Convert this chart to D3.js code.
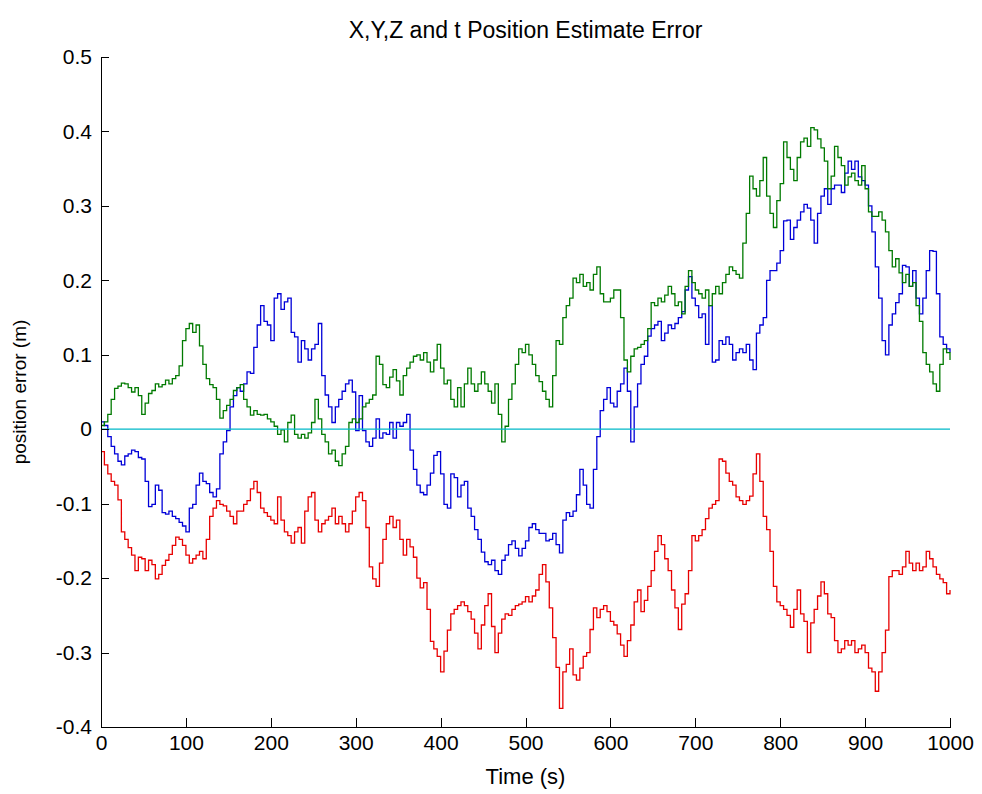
<!DOCTYPE html>
<meta charset="utf-8">
<body>
    <div id="chart"></div>
</body>
<script src="https://cdn.jsdelivr.net/npm/d3@7"></script>
<style>
    body { margin: 0; background: #fff; }
    text { font-family: "Liberation Sans", Arial, sans-serif; fill: #000; }
    .axis path, .axis line { stroke: #000; shape-rendering: crispEdges; }
    .series { fill: none; stroke-width: 1.3px; }
</style>
<script>

    // sample times (s), one every 4 s
    var timeS = d3.range(0, 1001, 4);

    var errX = [
        0.010, 0.005, -0.010, -0.023, -0.033, -0.043, -0.048, -0.036, -0.033, -0.028, -0.030, -0.038, -0.040, -0.070, -0.104, -0.101, -0.075, -0.082, -0.112, -0.114, -0.110,
        -0.117, -0.120, -0.125, -0.130, -0.138, -0.106, -0.101, -0.075, -0.059, -0.070, -0.073, -0.085, -0.091, -0.080, -0.033, -0.017, -0.002, 0.030, 0.045, 0.056, 0.051,
        0.061, 0.077, 0.075, 0.110, 0.140, 0.166, 0.145, 0.140, 0.119, 0.176, 0.182, 0.161, 0.171, 0.176, 0.130, 0.124, 0.090, 0.119, 0.108, 0.093, 0.108,
        0.114, 0.142, 0.072, 0.046, 0.030, 0.009, 0.030, 0.040, 0.051, 0.061, 0.066, 0.050, -0.002, 0.045, -0.002, -0.017, -0.023, -0.012, 0.014, -0.012, -0.005,
        -0.007, 0.009, -0.012, 0.009, 0.004, 0.009, 0.020, -0.028, -0.054, -0.075, -0.085, -0.088, -0.075, -0.059, -0.035, -0.030, -0.060, -0.101, -0.106, -0.060, -0.065,
        -0.091, -0.075, -0.070, -0.106, -0.117, -0.135, -0.148, -0.165, -0.178, -0.182, -0.176, -0.190, -0.195, -0.176, -0.169, -0.155, -0.150, -0.160, -0.170, -0.160, -0.150,
        -0.132, -0.127, -0.135, -0.140, -0.140, -0.150, -0.148, -0.140, -0.155, -0.166, -0.122, -0.112, -0.117, -0.110, -0.088, -0.054, -0.075, -0.101, -0.106, -0.054, -0.010,
        0.025, 0.040, 0.056, 0.035, 0.030, 0.051, 0.061, 0.082, 0.051, -0.017, 0.030, 0.061, 0.087, 0.098, 0.125, 0.135, 0.140, 0.145, 0.119, 0.129, 0.140,
        0.135, 0.142, 0.150, 0.158, 0.187, 0.205, 0.176, 0.166, 0.150, 0.155, 0.114, 0.166, 0.090, 0.093, 0.119, 0.114, 0.124, 0.114, 0.093, 0.103, 0.108,
        0.103, 0.114, 0.093, 0.080, 0.129, 0.140, 0.150, 0.200, 0.213, 0.213, 0.223, 0.240, 0.280, 0.281, 0.255, 0.271, 0.281, 0.292, 0.302, 0.297,
        0.281, 0.250, 0.290, 0.313, 0.323, 0.302, 0.323, 0.328, 0.328, 0.318, 0.344, 0.360, 0.349, 0.360, 0.339, 0.334, 0.328, 0.300, 0.265, 0.218, 0.176,
        0.119, 0.100, 0.140, 0.155, 0.170, 0.182, 0.220, 0.218, 0.192, 0.213, 0.176, 0.155, 0.176, 0.213, 0.240, 0.239, 0.182, 0.124, 0.114, 0.108, 0.103
    ];

    var errY = [
        0.005, 0.010, 0.020, 0.040, 0.055, 0.058, 0.062, 0.061, 0.056, 0.050, 0.056, 0.045, 0.020, 0.035, 0.048, 0.052, 0.061, 0.057, 0.060, 0.066, 0.061,
        0.068, 0.072, 0.085, 0.119, 0.135, 0.142, 0.130, 0.140, 0.112, 0.087, 0.068, 0.060, 0.056, 0.040, 0.015, 0.025, 0.032, 0.040, 0.052, 0.056, 0.060,
        0.040, 0.030, 0.019, 0.025, 0.020, 0.019, 0.020, 0.014, 0.010, 0.004, -0.007, -0.001, -0.017, 0.009, 0.019, -0.007, -0.012, -0.007, -0.012, -0.005, 0.009,
        0.040, 0.014, -0.007, -0.017, -0.033, -0.028, -0.043, -0.049, -0.033, -0.023, 0.009, 0.014, 0.009, 0.014, 0.030, 0.035, 0.040, 0.046, 0.098, 0.087, 0.060,
        0.056, 0.070, 0.080, 0.065, 0.046, 0.072, 0.082, 0.090, 0.098, 0.100, 0.093, 0.103, 0.090, 0.077, 0.093, 0.114, 0.082, 0.061, 0.066, 0.040, 0.030,
        0.056, 0.030, 0.061, 0.082, 0.061, 0.051, 0.061, 0.077, 0.061, 0.051, 0.035, 0.061, 0.020, -0.017, 0.004, 0.040, 0.061, 0.087, 0.108, 0.103, 0.114,
        0.100, 0.087, 0.072, 0.064, 0.051, 0.040, 0.030, 0.072, 0.119, 0.114, 0.150, 0.166, 0.176, 0.203, 0.197, 0.208, 0.192, 0.197, 0.187, 0.208, 0.218,
        0.182, 0.171, 0.171, 0.176, 0.187, 0.187, 0.150, 0.093, 0.077, 0.098, 0.108, 0.110, 0.114, 0.119, 0.135, 0.170, 0.166, 0.176, 0.171, 0.180, 0.192,
        0.182, 0.166, 0.171, 0.155, 0.192, 0.213, 0.197, 0.187, 0.182, 0.176, 0.187, 0.166, 0.182, 0.192, 0.182, 0.197, 0.208, 0.218, 0.213, 0.208, 0.203,
        0.250, 0.290, 0.340, 0.323, 0.313, 0.334, 0.365, 0.313, 0.290, 0.271, 0.307, 0.330, 0.386, 0.365, 0.349, 0.334, 0.365, 0.386, 0.391, 0.380,
        0.405, 0.402, 0.390, 0.378, 0.360, 0.323, 0.340, 0.380, 0.365, 0.354, 0.328, 0.339, 0.344, 0.334, 0.328, 0.354, 0.323, 0.292, 0.286, 0.286, 0.292,
        0.281, 0.265, 0.240, 0.218, 0.229, 0.210, 0.197, 0.208, 0.192, 0.197, 0.166, 0.145, 0.103, 0.087, 0.077, 0.061, 0.051, 0.087, 0.108, 0.103, 0.093
    ];

    var errZ = [
        -0.030, -0.048, -0.060, -0.070, -0.075, -0.095, -0.138, -0.148, -0.159, -0.169, -0.190, -0.172, -0.174, -0.190, -0.176, -0.182, -0.201, -0.195, -0.183, -0.176, -0.168,
        -0.156, -0.145, -0.148, -0.156, -0.169, -0.180, -0.174, -0.169, -0.164, -0.174, -0.148, -0.117, -0.106, -0.096, -0.101, -0.103, -0.110, -0.117, -0.127, -0.110, -0.110,
        -0.101, -0.096, -0.080, -0.070, -0.085, -0.106, -0.112, -0.117, -0.122, -0.127, -0.091, -0.122, -0.138, -0.143, -0.153, -0.138, -0.132, -0.153, -0.110, -0.091, -0.085,
        -0.122, -0.138, -0.127, -0.122, -0.117, -0.106, -0.127, -0.117, -0.127, -0.138, -0.127, -0.110, -0.091, -0.085, -0.096, -0.132, -0.185, -0.201, -0.211, -0.180, -0.148,
        -0.127, -0.117, -0.132, -0.122, -0.148, -0.169, -0.148, -0.158, -0.172, -0.200, -0.213, -0.206, -0.242, -0.285, -0.295, -0.305, -0.326, -0.298, -0.270, -0.248, -0.242,
        -0.237, -0.232, -0.237, -0.245, -0.255, -0.274, -0.295, -0.263, -0.237, -0.221, -0.265, -0.300, -0.274, -0.255, -0.248, -0.250, -0.242, -0.237, -0.235, -0.232, -0.225,
        -0.232, -0.224, -0.216, -0.195, -0.182, -0.205, -0.240, -0.280, -0.320, -0.375, -0.326, -0.316, -0.295, -0.330, -0.337, -0.321, -0.305, -0.300, -0.269, -0.240, -0.253,
        -0.242, -0.237, -0.245, -0.258, -0.263, -0.275, -0.290, -0.305, -0.284, -0.263, -0.232, -0.216, -0.245, -0.230, -0.211, -0.190, -0.164, -0.143, -0.155, -0.174, -0.190,
        -0.216, -0.240, -0.269, -0.235, -0.221, -0.190, -0.143, -0.150, -0.143, -0.135, -0.120, -0.106, -0.101, -0.096, -0.040, -0.043, -0.059, -0.070, -0.075, -0.091, -0.096,
        -0.101, -0.096, -0.090, -0.060, -0.033, -0.070, -0.117, -0.135, -0.164, -0.211, -0.232, -0.237, -0.242, -0.250, -0.266, -0.242, -0.216, -0.248, -0.258, -0.300,
        -0.260, -0.242, -0.224, -0.205, -0.221, -0.248, -0.253, -0.284, -0.300, -0.295, -0.284, -0.290, -0.284, -0.300, -0.295, -0.290, -0.300, -0.321, -0.326, -0.352, -0.326,
        -0.300, -0.270, -0.198, -0.190, -0.190, -0.195, -0.185, -0.164, -0.180, -0.190, -0.180, -0.190, -0.185, -0.164, -0.174, -0.185, -0.195, -0.201, -0.206, -0.221, -0.216
    ];

    // clock error stays at zero the whole run
    var errTTime = [0, 1000];
    var errT = [0, 0];

    var xTicks = [0, 100, 200, 300, 400, 500, 600, 700, 800, 900, 1000];
    var yTicks = [-0.4, -0.3, -0.2, -0.1, 0, 0.1, 0.2, 0.3, 0.4, 0.5];
    var yTickLabels = ["-0.4", "-0.3", "-0.2", "-0.1", "0", "0.1", "0.2", "0.3", "0.4", "0.5"];

    var width = 982,
        height = 794,
        margin = {left: 101, right: 32, top: 57, bottom: 67};

    var svg = d3.select("#chart")
        .append("svg")
            .attr("width", width)
            .attr("height", height);

    var x = d3.scaleLinear().domain([0, 1000]).range([margin.left, width - margin.right]);
    var y = d3.scaleLinear().domain([-0.4, 0.5]).range([height - margin.bottom, margin.top]);

    function seriesPoints(times, vals) {
        return times.map(function(t, i) { return [t, vals[i]]; });
    }

    var line = d3.line()
        .x(function(d) { return x(d[0]); })
        .y(function(d) { return y(d[1]); })
        .curve(d3.curveStepAfter);

    var series = [
        {name: "x", pts: seriesPoints(timeS, errX), color: "#0000d8"},
        {name: "y", pts: seriesPoints(timeS, errY), color: "#007a00"},
        {name: "z", pts: seriesPoints(timeS, errZ), color: "#e80000"},
        {name: "t", pts: seriesPoints(errTTime, errT), color: "#00b8c8"}
    ];

    svg.append("g")
        .selectAll("path")
        .data(series)
        .enter().append("path")
            .attr("class", "series")
            .attr("stroke", function(d) { return d.color; })
            .attr("d", function(d) { return line(d.pts); });

    // matlab style axes: ticks point inward, no box
    var xAxis = svg.append("g")
        .attr("class", "axis")
        .attr("transform", "translate(0," + y(-0.4) + ")")
        .call(d3.axisBottom(x).tickValues(xTicks).tickFormat(d3.format("d"))
            .tickSizeInner(-9).tickSizeOuter(0).tickPadding(8));

    var yAxis = svg.append("g")
        .attr("class", "axis")
        .attr("transform", "translate(" + x(0) + ",0)")
        .call(d3.axisLeft(y).tickValues(yTicks)
            .tickFormat(function(d, i) { return yTickLabels[i]; })
            .tickSizeInner(-8).tickSizeOuter(0).tickPadding(9));

    svg.selectAll(".axis text").attr("font-size", 21);

    svg.append("text")
        .attr("x", (x(0) + x(1000)) / 2)
        .attr("y", 38)
        .attr("text-anchor", "middle")
        .attr("font-size", 23)
        .text("X,Y,Z and t Position Estimate Error");

    svg.append("text")
        .attr("x", (x(0) + x(1000)) / 2)
        .attr("y", 784)
        .attr("text-anchor", "middle")
        .attr("font-size", 22)
        .text("Time (s)");

    svg.append("text")
        .attr("transform", "translate(26," + y(0.05) + ") rotate(-90)")
        .attr("text-anchor", "middle")
        .attr("font-size", 19)
        .text("position error (m)");

</script>
